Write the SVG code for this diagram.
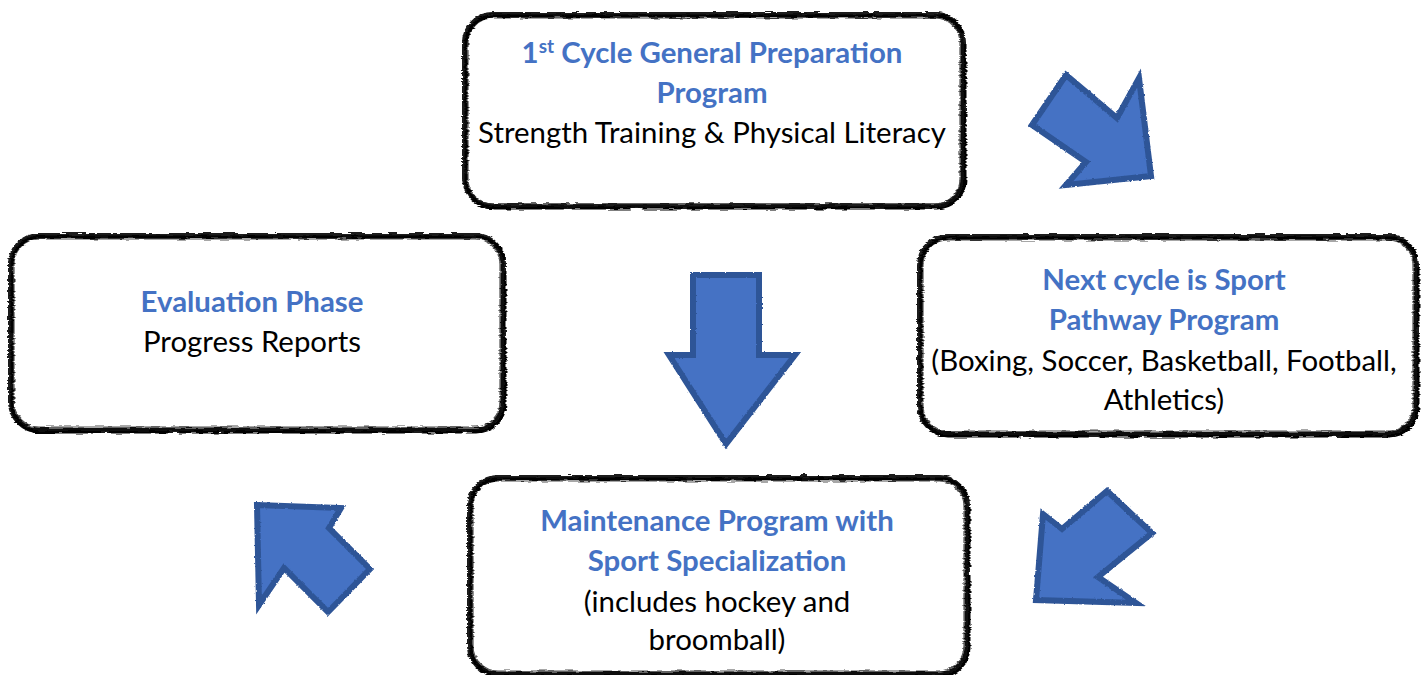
<svg xmlns="http://www.w3.org/2000/svg" width="1424" height="675" viewBox="0 0 1424 675">
  <defs>
    <!-- rough, brushed edge for the hand-drawn frames -->
    <filter id="rough" x="-5%" y="-5%" width="110%" height="110%">
      <feTurbulence type="fractalNoise" baseFrequency="0.08 0.6" numOctaves="2" seed="3" result="n"/>
      <feDisplacementMap in="SourceGraphic" in2="n" scale="4" xChannelSelector="R" yChannelSelector="G"/>
    </filter>
    <filter id="roughArrow" x="-10%" y="-10%" width="120%" height="120%">
      <feTurbulence type="fractalNoise" baseFrequency="0.5" numOctaves="2" seed="7" result="n"/>
      <feDisplacementMap in="SourceGraphic" in2="n" scale="2.5" xChannelSelector="R" yChannelSelector="G"/>
    </filter>
    <style>
      .frame { fill: #ffffff; stroke: #111111; stroke-width: 5; }
      .frame2 { fill: none; stroke: #1a1a1a; stroke-width: 2; }
      .frame3 { fill: none; stroke: #333333; stroke-width: 1.2; opacity: 0.85; }
      .frame4 { fill: none; stroke: #000000; stroke-width: 3; stroke-dasharray: 60 8 120 5 40 10; }
      .arrow { fill: #4472C4; stroke: #2F5597; stroke-width: 6; stroke-linejoin: miter; }
      .head { font-family: Lato, "Liberation Sans", sans-serif; font-weight: bold; font-size: 29.4px; fill: #4472C4; text-anchor: middle; }
      .body { font-family: Lato, "Liberation Sans", sans-serif; font-size: 29.4px; fill: #000000; text-anchor: middle; }
    </style>
  </defs>

  <!-- connectors: block arrows between the phases -->
  <g id="connectors" filter="url(#roughArrow)">
    <polygon class="arrow" points="1032,125 1066,75 1117,118 1139,78 1151,176 1066,185 1086,162"/>
    <polygon class="arrow" points="693,275 759,275 759,355 795,355 726,444 669,355 693,355"/>
    <polygon class="arrow" points="1107,491 1152,533 1098,577 1136,603 1036,600 1043,514 1062,529"/>
    <polygon class="arrow" points="257,505 341,508 329,528 370,569 328,612 284,568 259,605"/>
  </g>

  <!-- phase 1 -->
  <g id="node-general-prep">
    <g filter="url(#rough)">
      <rect class="frame" x="465" y="15" width="498" height="191" rx="28"/>
      <rect class="frame2" x="463" y="13" width="502" height="195" rx="30"/>
      <rect class="frame3" x="468" y="18" width="492" height="186" rx="25"/>
      <rect class="frame4" x="466" y="16" width="499" height="192" rx="28"/>
    </g>
    <text class="head" x="712" y="63">1<tspan font-size="19" dy="-10">st</tspan><tspan dy="10"> Cycle General Preparation</tspan></text>
    <text class="head" x="712" y="103">Program</text>
    <text class="body" x="712" y="143">Strength Training &amp; Physical Literacy</text>
  </g>

  <!-- phase 2 -->
  <g id="node-sport-pathway">
    <g filter="url(#rough)">
      <rect class="frame" x="920" y="237" width="496" height="197" rx="28"/>
      <rect class="frame2" x="918" y="235" width="500" height="201" rx="30"/>
      <rect class="frame3" x="923" y="240" width="490" height="191" rx="25"/>
      <rect class="frame4" x="921" y="238" width="497" height="198" rx="28"/>
    </g>
    <text class="head" x="1164" y="290">Next cycle is Sport</text>
    <text class="head" x="1164" y="330">Pathway Program</text>
    <text class="body" x="1164" y="371">(Boxing, Soccer, Basketball, Football,</text>
    <text class="body" x="1164" y="410">Athletics)</text>
  </g>

  <!-- phase 3 -->
  <g id="node-maintenance">
    <g filter="url(#rough)">
      <rect class="frame" x="470" y="478" width="497" height="196" rx="28"/>
      <rect class="frame2" x="468" y="476" width="501" height="200" rx="30"/>
      <rect class="frame3" x="473" y="481" width="491" height="190" rx="25"/>
      <rect class="frame4" x="471" y="479" width="498" height="197" rx="28"/>
    </g>
    <text class="head" x="717" y="531">Maintenance Program with</text>
    <text class="head" x="717" y="571">Sport Specialization</text>
    <text class="body" x="717" y="612">(includes hockey and</text>
    <text class="body" x="717" y="650">broomball)</text>
  </g>

  <!-- phase 4 -->
  <g id="node-evaluation">
    <g filter="url(#rough)">
      <rect class="frame" x="11" y="236" width="492" height="194" rx="28"/>
      <rect class="frame2" x="9" y="234" width="496" height="198" rx="30"/>
      <rect class="frame3" x="14" y="239" width="486" height="188" rx="25"/>
      <rect class="frame4" x="12" y="237" width="493" height="195" rx="28"/>
    </g>
    <text class="head" x="252" y="312">Evaluation Phase</text>
    <text class="body" x="252" y="352">Progress Reports</text>
  </g>
</svg>
